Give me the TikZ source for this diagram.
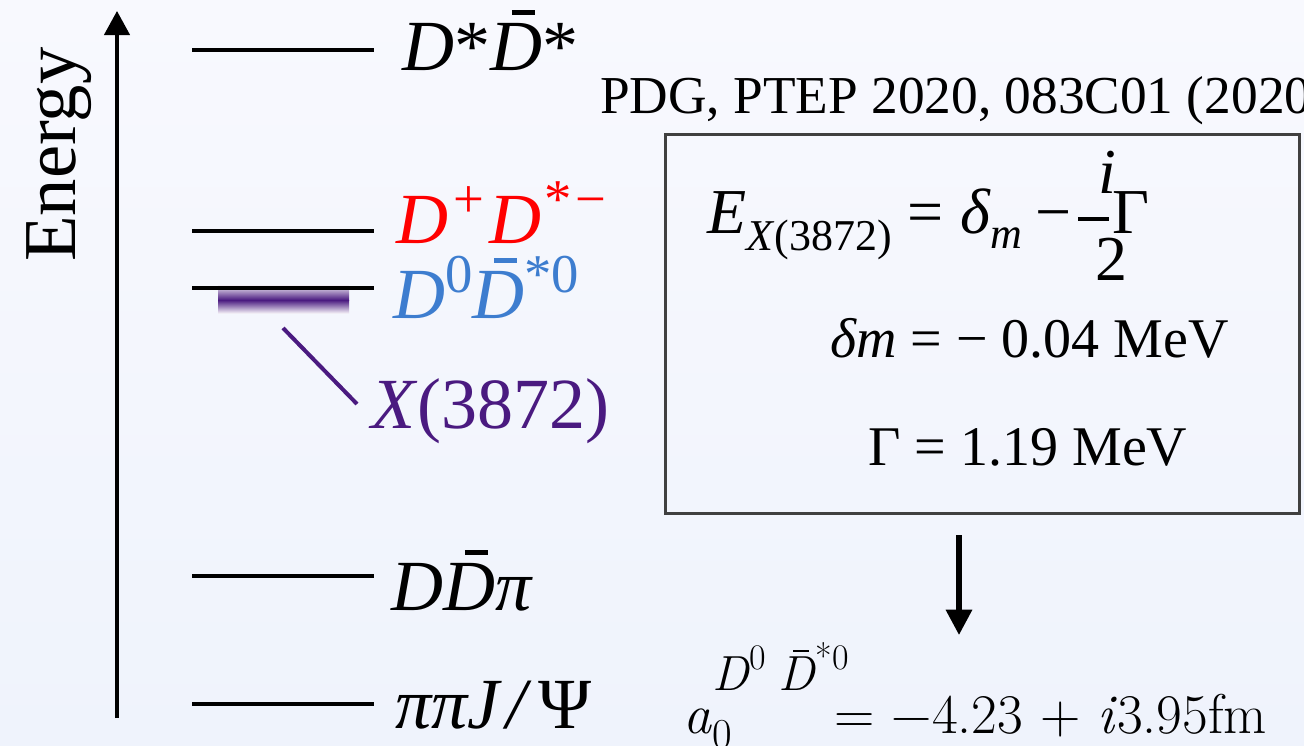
\documentclass[tikz,border=0pt]{standalone}
\usepackage{fontspec}
\setmainfont{Liberation Serif}
\newfontfamily\lmr{Latin Modern Roman}
\usetikzlibrary{arrows.meta,calc}
\definecolor{bgtop}{HTML}{F8F9FE}
\definecolor{bgbot}{HTML}{EFF3FC}
\definecolor{xpurple}{HTML}{4A1A80}
\definecolor{dblue}{HTML}{3D7DCF}
\definecolor{boxgray}{HTML}{404040}
\newcommand\fsz[1]{\fontsize{#1pt}{#1pt}\selectfont}
\newcommand\Dbar{\makebox[0pt][l]{\hspace{0.3em}\raisebox{0.77em}{\rule{0.32em}{0.06em}}}\textit{D}}
\newcommand\sups[1]{\raisebox{0.36em}{\fsz{41}#1}}
\tikzset{
  lvl/.style={line width=3.6pt},
  lbl/.style={font=\fsz{54}, anchor=base west, inner sep=0pt},
  txt/.style={anchor=base west, inner sep=0pt},
  eqf/.style={anchor=base west, inner sep=0pt, font=\fsz{48}},
}
\begin{document}
\begin{tikzpicture}[x=0.75pt,y=-0.75pt]
\useasboundingbox (0,0) rectangle (1304,746);
\clip (0,0) rectangle (1304,746);
\shade[top color=bgtop, bottom color=bgbot] (0,0) rectangle (1304,746);

% energy axis
\coordinate (ax0) at (117,718);
\coordinate (ax1) at (117,11);
\draw[line width=2.5pt, -{Triangle[width=19pt,length=18pt]}] (ax0) -- (ax1);
\node[font=\fsz{56}, rotate=90, anchor=base west, inner sep=0pt] (energy) at (75,262) {Energy};

% purple band
\shade[top color=xpurple!8, bottom color=xpurple] (218,285) rectangle (349,300);
\shade[top color=xpurple, bottom color=xpurple!8] (218,300) rectangle (349,313);

% levels
\draw[lvl] (192,50) -- (374,50);
\draw[lvl] (192,231) -- (374,231);
\draw[lvl] (192,288) -- (374,288);
\draw[lvl] (192,576) -- (374,576);
\draw[lvl] (192,704) -- (374,704);

% labels
\node[lbl] (l1) at (402,70) {\textit{D}*\Dbar*};
\node[lbl, red] (l2) at (396,243) {\textit{D}\hspace{4pt}\sups{+\hspace{4pt}}\textit{D}\hspace{2pt}\sups{*\hspace{3pt}−}};
\node[lbl, dblue] (l3) at (393,318) {\textit{D}\sups{0}\Dbar\sups{*0}};
\node[lbl, xpurple] (lx) at (371,428) {\textit{X}(3872)};
\node[lbl] (l4) at (391,610) {\textit{D}\Dbar\textit{π}};
\node[lbl] (l5) at (395,728) {\textit{ππJ}\hspace{3pt}\textit{/}\hspace{5pt}Ψ};

\coordinate (xl0) at (283,328);
\coordinate (xl1) at (357,404);
\draw[xpurple, line width=3pt] (xl0) -- (xl1);

% reference
\node[txt, font=\fsz{40}] (pdg) at (600,113) {PDG, PTEP 2020, 083C01 (2020)};

% box
\node[draw=boxgray, line width=2.2pt, minimum width=475.5pt, minimum height=284.25pt, inner sep=0pt, anchor=north west] (box) at (664,133) {};

\node[eqf] (eqA) at (707,233) {\textit{E}\raisebox{-0.27em}{\fsz{33}\textit{X}(3872)} = \textit{δ}\raisebox{-0.24em}{\fsz{33}\textit{m}}\hspace{10pt}−};
\draw[line width=2.3pt] (1078,219) -- (1109,219);
\node[eqf, anchor=base] (num) at (1107,193) {\textit{i}};
\node[eqf, anchor=base] (den) at (1111,280) {2};
\node[eqf] (gam) at (1112,233) {Γ};

\node[txt, font=\fsz{42}] (eq2) at (830,357) {\textit{δm} = − 0.04 MeV};
\node[txt, font=\fsz{42}] (eq3) at (868,465) {Γ = 1.19 MeV};

\coordinate (ar0) at (959,535);
\coordinate (ar1) at (959,635);
\draw[line width=4pt, -{Triangle[width=19pt,length=19pt]}] (ar0) -- (ar1);

\node[txt, font=\fsz{42}\lmr] (a0) at (683,733) {\textit{a}\rlap{\raisebox{-0.27em}{\fsz{32}0}}\rlap{\raisebox{0.76em}{\fsz{37}\textit{D}\raisebox{0.42em}{\fsz{27}0}\hspace{0.25em}\Dbar\raisebox{0.42em}{\fsz{27}*0}}}\hspace{92pt}= −4.23 + \textit{i}3.95fm};
\end{tikzpicture}
\end{document}
